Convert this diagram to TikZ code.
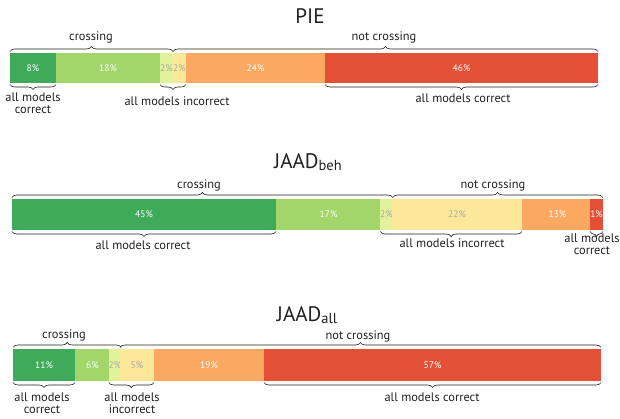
\documentclass[tikz,border=0pt]{standalone}
\usepackage{fontspec}
\setmainfont{PT Sans}
\usetikzlibrary{decorations.pathreplacing}

\definecolor{dgreen}{HTML}{3EAA5A}
\definecolor{lgreen}{HTML}{A2D56A}
\definecolor{pgreen}{HTML}{E2F19B}
\definecolor{pyellow}{HTML}{FCE79A}
\definecolor{porange}{HTML}{FBA862}
\definecolor{pred}{HTML}{E35036}
\definecolor{pctgrey}{HTML}{A8A8A0}
\definecolor{ink}{HTML}{231F20}

\begin{document}
\begin{tikzpicture}[x=1pt,y=-1pt,
  seg/.style={rectangle, inner sep=0pt, outer sep=0pt, draw=none,
    font=\fontsize{9.5}{9.5}\selectfont, text=white},
  light/.style={text=pctgrey},
  bracetop/.style={draw=ink, line width=0.6pt, decorate,
    decoration={brace, amplitude=5pt, raise=1.5pt}},
  bracebot/.style={draw=ink, line width=0.6pt, decorate,
    decoration={brace, amplitude=5pt, raise=1.5pt, mirror}},
  lbl/.style={font=\fontsize{12.4}{12}\selectfont, text=ink, align=center, inner sep=0pt},
  title/.style={font=\fontsize{21}{21}\selectfont, text=ink, inner sep=0pt}]
\useasboundingbox (0,0) rectangle (620,419);

% ---------------- PIE ----------------
\node[title] (tpie) at (310,16) {PIE};
\begin{scope}[every node/.append style={minimum height=30pt}]
\node[seg, fill=dgreen,  minimum width=46pt]  (p1) at (33,68)    {8\%};
\node[seg, fill=lgreen,  minimum width=104pt] (p2) at (108,68)   {18\%};
\node[seg, fill=pgreen,  light, minimum width=13pt] (p3) at (166.5,68) {2\%};
\node[seg, fill=pyellow, light, minimum width=13pt] (p4) at (179.5,68) {2\%};
\node[seg, fill=porange, minimum width=139pt] (p5) at (255.5,68) {24\%};
\node[seg, fill=pred,    minimum width=273pt] (p6) at (461.5,68) {46\%};
\end{scope}
\draw[bracetop] (p1.north west) -- (p3.north east);
\draw[bracetop] (p4.north west) -- (p6.north east);
\draw[bracebot] (p1.south west) -- (p1.south east);
\draw[bracebot] (p3.south west) -- (p4.south east);
\draw[bracebot] (p6.south west) -- (p6.south east);
\node[lbl] (pc) at (91,37) {crossing};
\node[lbl] (pn) at (384,37) {not crossing};
\node[lbl] (pl1) at (33,103) {all models\\correct};
\node[lbl] (pl2) at (177,101) {all models incorrect};
\node[lbl] (pl3) at (463,98) {all models correct};

% ---------------- JAAD beh ----------------
\node[title] (tbeh) at (308,162) {JAAD\raisebox{-2.5pt}{\fontsize{14.5}{14.5}\selectfont beh}};
\begin{scope}[every node/.append style={minimum height=31pt}]
\node[seg, fill=dgreen,  minimum width=264pt] (b1) at (144,214.5)   {45\%};
\node[seg, fill=lgreen,  minimum width=105pt] (b2) at (328.5,214.5) {17\%};
\node[seg, fill=pgreen,  light, minimum width=11pt] (b3) at (386.5,214.5) {2\%};
\node[seg, fill=pyellow, light, minimum width=130pt] (b4) at (457,214.5) {22\%};
\node[seg, fill=porange, minimum width=71pt]  (b5) at (557.5,214.5) {13\%};
\node[seg, fill=pred,    minimum width=7pt]   (b6) at (596.5,214.5) {1\%};
\end{scope}
\draw[bracetop] (b1.north west) -- (b3.north east);
\draw[bracetop] (b3.north east) -- (b6.north east);
\draw[bracebot] (b1.south west) -- (b1.south east);
\draw[bracebot] (b3.south west) -- (b4.south east);
\draw[bracebot] (b6.south west) -- (b6.south east);
\node[lbl] (bc) at (199,185) {crossing};
\node[lbl] (bn) at (493,185) {not crossing};
\node[lbl] (bl1) at (143,245) {all models correct};
\node[lbl] (bl2) at (452,243) {all models incorrect};
\node[lbl] (bl3) at (592,244) {all models\\correct};

% ---------------- JAAD all ----------------
\node[title] (tall) at (307,315) {JAAD\raisebox{-2.5pt}{\fontsize{14.5}{14.5}\selectfont all}};
\begin{scope}[every node/.append style={minimum height=32pt}]
\node[seg, fill=dgreen,  minimum width=62pt]  (a1) at (44,365)    {11\%};
\node[seg, fill=lgreen,  minimum width=35pt]  (a2) at (92.5,365)  {6\%};
\node[seg, fill=pgreen,  light, minimum width=10pt] (a3) at (115,365) {2\%};
\node[seg, fill=pyellow, light, minimum width=34pt] (a4) at (137,365) {5\%};
\node[seg, fill=porange, minimum width=110pt] (a5) at (209,365)   {19\%};
\node[seg, fill=pred,    minimum width=337pt] (a6) at (432.5,365) {57\%};
\end{scope}
\draw[bracetop] (a1.north west) -- (a3.north east);
\draw[bracetop] (a4.north west) -- (a6.north east);
\draw[bracebot] (a1.south west) -- (a1.south east);
\draw[bracebot] (a3.south west) -- (a4.south east);
\draw[bracebot] (a6.south west) -- (a6.south east);
\node[lbl] (ac) at (64,335) {crossing};
\node[lbl] (an) at (358,336) {not crossing};
\node[lbl] (al1) at (42,403) {all models\\correct};
\node[lbl] (al2) at (132,403) {all models\\incorrect};
\node[lbl] (al3) at (432,397) {all models correct};
\end{tikzpicture}
\end{document}
